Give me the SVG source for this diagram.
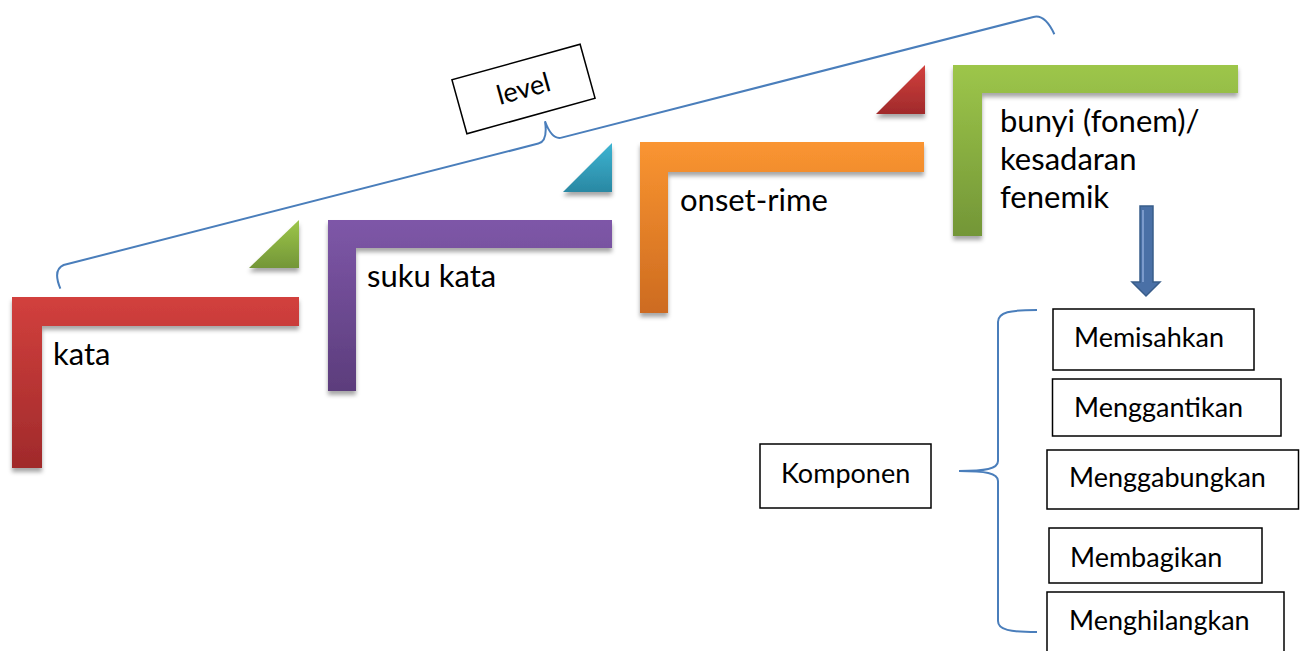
<svg xmlns="http://www.w3.org/2000/svg" width="1305" height="651" viewBox="0 0 1305 651">
<defs>
<linearGradient id="gRed" x1="0" y1="0" x2="0" y2="1"><stop offset="0" stop-color="#d2403d"/><stop offset="1" stop-color="#a02a2b"/></linearGradient>
<linearGradient id="gPur" x1="0" y1="0" x2="0" y2="1"><stop offset="0" stop-color="#7e57a8"/><stop offset="1" stop-color="#5c3d7c"/></linearGradient>
<linearGradient id="gOra" x1="0" y1="0" x2="0" y2="1"><stop offset="0" stop-color="#fa9531"/><stop offset="1" stop-color="#cd6b20"/></linearGradient>
<linearGradient id="gGre" x1="0" y1="0" x2="0" y2="1"><stop offset="0" stop-color="#9dc64a"/><stop offset="1" stop-color="#739637"/></linearGradient>
<linearGradient id="gBlu" x1="0" y1="0" x2="0" y2="1"><stop offset="0" stop-color="#3cb4d2"/><stop offset="1" stop-color="#2a88a3"/></linearGradient>
<filter id="sh" x="-10%" y="-10%" width="120%" height="130%"><feDropShadow dx="0" dy="4" stdDeviation="2" flood-color="#000" flood-opacity="0.35"/></filter>
</defs>
<style>
.lbl{font-family:Lato,"Open Sans","Noto Sans",sans-serif;font-size:31px;fill:#000}
.t{font-family:Lato,"Open Sans","Noto Sans",sans-serif;font-size:27px;fill:#000}
.box{fill:#fff;stroke:#000;stroke-width:1.5}
.br{fill:none;stroke:#4a7ebb;stroke-width:2}
</style>
<rect width="1305" height="651" fill="#fff"/>

<g id="connectors">
<g transform="translate(52,268) rotate(-14.35)">
<path class="br" d="M3,22 Q0,2 12,0 L502,0 Q512,0 514,-20 Q516,0 526,0 L1013,0 Q1025,0 1029,22"/>
</g>
<path class="br" d="M1037,310 C1010,310 998,312 998,322 L998,461 C998,469 985,471 959,471 C985,471 998,473 998,481 L998,621 C998,630 1010,632 1037,632"/>
<g id="arrow">
<path d="M1140,206 H1153 V282 H1160 L1146,296 L1132,282 H1140 Z" fill="#4a70a6" stroke="#385d8a" stroke-width="1.5"/>
<line x1="1143" y1="210" x2="1143" y2="282" stroke="#7b9acb" stroke-width="2"/>
</g>
</g>

<g id="kata">
<path d="M12,297 H299 V326 H42 V468 H12 Z" fill="url(#gRed)" filter="url(#sh)"/>
<text class="lbl" x="53" y="365">kata</text>
</g>
<g id="tri-green">
<path d="M299,220 L299,268 L249,268 Z" fill="url(#gGre)" filter="url(#sh)"/>
</g>
<g id="suku-kata">
<path d="M328,220 H612 V248 H356 V391 H328 Z" fill="url(#gPur)" filter="url(#sh)"/>
<text class="lbl" x="367" y="287">suku kata</text>
</g>
<g id="tri-blue">
<path d="M612,143 L612,192 L563,192 Z" fill="url(#gBlu)" filter="url(#sh)"/>
</g>
<g id="onset-rime">
<path d="M640,142 H924 V172 H668 V313 H640 Z" fill="url(#gOra)" filter="url(#sh)"/>
<text class="lbl" x="680" y="211">onset-rime</text>
</g>
<g id="tri-red">
<path d="M925,65 L925,114 L876,114 Z" fill="url(#gRed)" filter="url(#sh)"/>
</g>
<g id="bunyi">
<path d="M953,65 H1238 V93 H982 V236 H953 Z" fill="url(#gGre)" filter="url(#sh)"/>
<text class="lbl" x="1000" y="132">bunyi (fonem)/</text>
<text class="lbl" x="1000" y="170">kesadaran</text>
<text class="lbl" x="1000" y="208">fenemik</text>
</g>

<g id="level" transform="translate(523.5,89) rotate(-15.5)">
<rect class="box" x="-66.5" y="-28" width="133" height="56"/>
<text class="t" x="0" y="9" text-anchor="middle">level</text>
</g>

<g id="komponen">
<rect class="box" x="760" y="444" width="171" height="64"/>
<text class="t" x="781" y="483">Komponen</text>
</g>
<g id="memisahkan">
<rect class="box" x="1053" y="309" width="201" height="61"/>
<text class="t" x="1074" y="347">Memisahkan</text>
</g>
<g id="menggantikan">
<rect class="box" x="1052.5" y="379" width="228.5" height="57"/>
<text class="t" x="1074" y="417">Menggantikan</text>
</g>
<g id="menggabungkan">
<rect class="box" x="1047" y="450" width="251.5" height="59"/>
<text class="t" x="1069" y="487">Menggabungkan</text>
</g>
<g id="membagikan">
<rect class="box" x="1049" y="528" width="213" height="55"/>
<text class="t" x="1070" y="567">Membagikan</text>
</g>
<g id="menghilangkan">
<rect class="box" x="1047" y="592" width="237" height="70"/>
<text class="t" x="1069" y="630">Menghilangkan</text>
</g>
</svg>
